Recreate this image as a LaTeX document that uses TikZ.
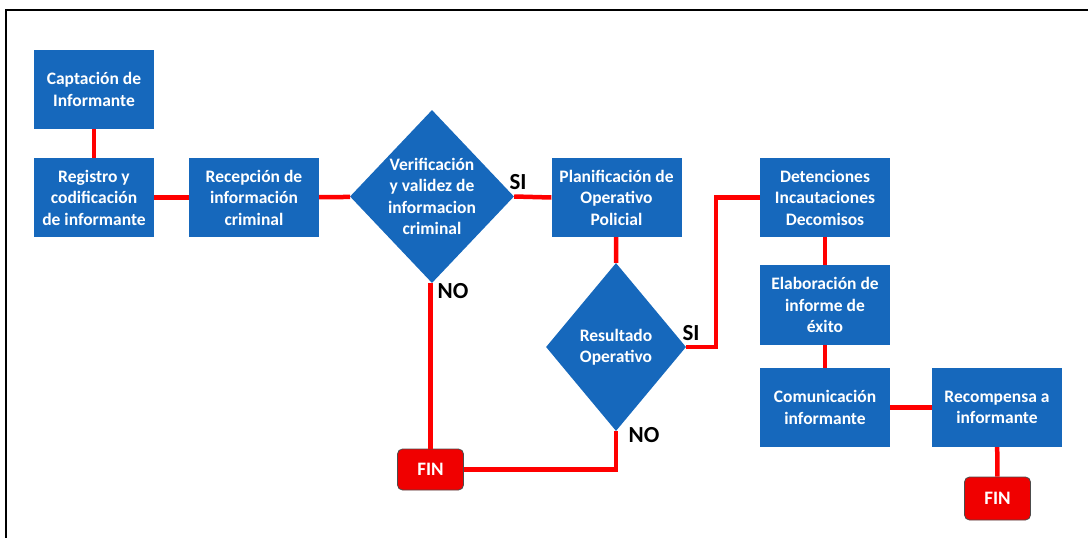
\documentclass[tikz,border=0pt]{standalone}
\usepackage{fontspec}
\setmainfont{Carlito}
\usetikzlibrary{shapes.geometric}

\definecolor{boxblue}{RGB}{22,104,188}
\definecolor{linered}{RGB}{255,0,0}
\definecolor{finred}{RGB}{240,0,0}

\begin{document}
\begin{tikzpicture}[x=1pt,y=-1pt]

\tikzset{box/.style = {shape=rectangle,fill=boxblue,text=white,font=\fontsize{17.5}{21.5}\selectfont\bfseries,align=center,minimum width=130pt,minimum height=79pt,inner sep=0pt}}
\tikzset{decision/.style = {shape=diamond,fill=boxblue,inner sep=0pt}}
\tikzset{finbox/.style = {shape=rectangle,rounded corners=5pt,fill=finred,draw=black!70,line width=0.8pt,text=white,font=\fontsize{19}{20}\selectfont\bfseries,minimum width=66pt,minimum height=41pt}}
\tikzset{edge/.style = {draw=linered,line width=4.5pt}}
\tikzset{answer/.style = {font=\fontsize{23}{24}\selectfont\bfseries}}

\useasboundingbox (0,0) rectangle (1088,538);
\draw[line width=2pt] (6,538) -- (6,10) -- (1088,10);

%corner of the SI connector
\coordinate (bend) at (716,346);

%verticies
\node[box, minimum width=120pt] (capt) at (94,89.5) {Captación de\\Informante};
\node[box, minimum width=120pt] (reg) at (94,197.5) {Registro y\\codificación\\de informante};
\node[box] (rec) at (254,197.5) {Recepción de\\información\\criminal};
\node[decision, minimum width=164pt, minimum height=173pt,
  label={[box,fill=none,minimum width=0pt,minimum height=0pt]center:Verificación\\y validez de\\informacion\\criminal}] (verif) at (432,196.5) {};
\node[box] (plan) at (616.5,197.5) {Planificación de\\Operativo\\Policial};
\node[decision, minimum width=140pt, minimum height=168pt,
  label={[box,fill=none,minimum width=0pt,minimum height=0pt]center:Resultado\\Operativo}] (resul) at (616,347) {};
\node[box] (det) at (825,197.5) {Detenciones\\Incautaciones\\Decomisos};
\node[box, minimum height=80pt] (elab) at (825,305) {Elaboración de\\informe de\\éxito};
\node[box] (com) at (825,407.5) {Comunicación\\informante};
\node[box] (recomp) at (997,407.5) {Recompensa a\\informante};
\node[finbox] (fin1) at (430.5,469.5) {FIN};
\node[finbox, minimum height=43pt] (fin2) at (997.5,498.5) {FIN};

%edges
\path[edge] (capt) -- (reg);
\path[edge] (reg) -- (rec);
\path[edge] (rec) -- (verif);
\path[edge] (verif.east) -- (plan.west);
\path[edge] (plan) -- (resul.north);
\path[edge] (verif.south -| fin1.north) -- (fin1.north);
\path[edge] (resul.south) |- (fin1.east);
\path[edge] (resul.east) -- (resul.east -| bend) |- (det.west);
\path[edge] (det) -- (elab);
\path[edge] (elab) -- (com);
\path[edge] (com) -- (recomp);
\path[edge] (recomp) -- (fin2);

%labels
\node[answer] (si1) at (518,182) {SI};
\node[answer] (no1) at (453,291) {NO};
\node[answer] (si2) at (691,333) {SI};
\node[answer] (no2) at (644,435) {NO};

\end{tikzpicture}
\end{document}
